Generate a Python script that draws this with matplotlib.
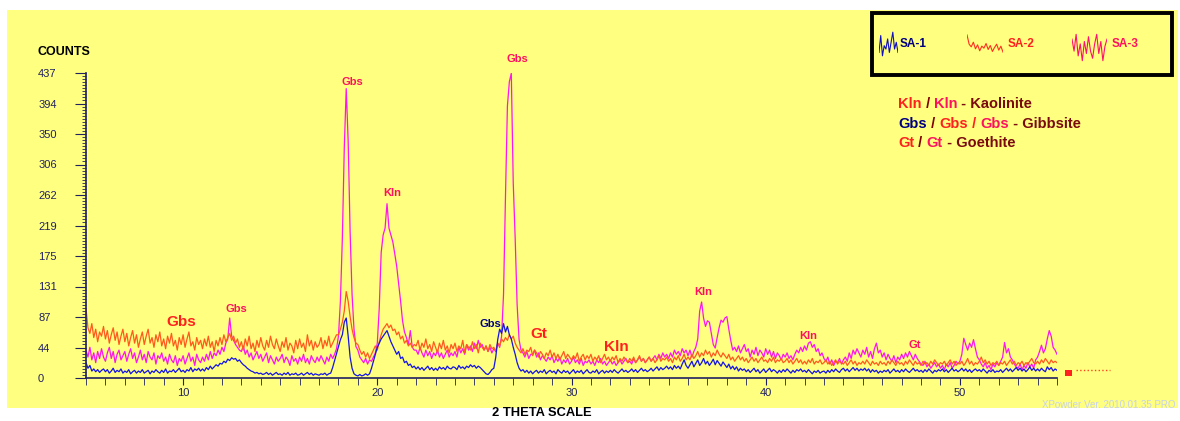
import numpy as np
import matplotlib.pyplot as plt
from matplotlib.patches import Rectangle
from matplotlib.lines import Line2D
from matplotlib.ticker import AutoMinorLocator, MultipleLocator

plt.rcParams['font.family'] = ['Liberation Sans', 'DejaVu Sans']

W, H = 1180, 421

# scan settings (2 theta, degrees)
theta_start = 5.0
theta_step = 0.1
counts_top = 437.4

# counts, one row per degree
sa1 = [
    22, 14, 18, 10, 13, 9, 12, 8, 11, 13,
    9, 12, 7, 10, 14, 8, 11, 9, 13, 7,
    10, 8, 12, 6, 9, 11, 7, 10, 8, 12,
    7, 9, 11, 6, 10, 8, 12, 9, 7, 11,
    8, 13, 7, 10, 9, 12, 8, 11, 14, 9,
    11, 8, 12, 10, 15, 9, 13, 11, 14, 10,
    13, 10, 15, 12, 17, 13, 16, 19, 17, 21,
    20, 24, 22, 27, 25, 29, 27, 28, 24, 26,
    22, 19, 17, 14, 12, 10, 9, 7, 8, 6,
    7, 5, 6, 8, 5, 7, 4, 6, 8, 5,
    6, 4, 7, 5, 8, 4, 6, 5, 7, 4,
    5, 7, 4, 6, 8, 5, 7, 4, 6, 5,
    4, 6, 5, 7, 4, 6, 7, 15, 25, 35,
    45, 55, 62, 80, 86, 60, 30, 14, 6, 4,
    3, 5, 3, 4, 6, 4, 6, 14, 24, 34,
    44, 50, 56, 60, 64, 68, 60, 52, 46, 40,
    34, 38, 28, 30, 22, 24, 18, 20, 15, 17,
    13, 16, 12, 15, 11, 14, 17, 12, 15, 11,
    14, 11, 16, 13, 15, 12, 17, 14, 13, 16,
    15, 12, 18, 14, 16, 13, 17, 15, 19, 16,
    18, 14, 17, 15, 12, 9, 6, 5, 8, 12,
    14, 30, 55, 70, 64, 78, 66, 74, 62, 56,
    44, 34, 22, 14, 10, 12, 8, 11, 7, 10,
    6, 9, 11, 7, 10, 8, 12, 6, 9, 11,
    8, 10, 6, 12, 9, 7, 11, 8, 10, 6,
    9, 12, 7, 10, 8, 11, 6, 9, 12, 8,
    7, 10, 8, 12, 6, 9, 11, 7, 10, 8,
    11, 8, 12, 9, 7, 10, 13, 9, 11, 8,
    10, 13, 9, 12, 8, 11, 14, 10, 12, 9,
    11, 14, 10, 13, 16, 11, 15, 12, 14, 17,
    13, 16, 12, 18, 14, 17, 13, 20, 26, 18,
    14, 19, 24, 16, 21, 26, 18, 22, 28, 20,
    24, 18, 22, 27, 19, 25, 21, 17, 23, 19,
    15, 20, 13, 17, 12, 16, 10, 14, 11, 13,
    9, 12, 8, 11, 14, 9, 12, 7, 10, 13,
    8, 11, 14, 9, 12, 10, 7, 11, 8, 12,
    9, 13, 10, 7, 11, 8, 12, 10, 13, 9,
    11, 8, 12, 9, 6, 10, 8, 11, 7, 9,
    10, 7, 11, 8, 12, 9, 13, 10, 8, 12,
    14, 10, 13, 9, 12, 15, 11, 14, 10, 13,
    11, 14, 10, 13, 8, 12, 9, 11, 7, 10,
    8, 11, 9, 12, 7, 10, 13, 9, 11, 8,
    12, 9, 13, 10, 8, 11, 14, 10, 12, 9,
    11, 8, 12, 9, 13, 10, 7, 11, 9, 12,
    10, 13, 9, 12, 8, 11, 14, 10, 12, 9,
    11, 14, 10, 13, 9, 12, 8, 11, 13, 10,
    12, 9, 13, 10, 7, 11, 9, 12, 8, 10,
    9, 12, 8, 11, 14, 10, 13, 9, 12, 15,
    11, 14, 10, 13, 9, 12, 16, 11, 14, 10,
    13, 10, 14, 11, 9, 16, 12, 15, 10, 13,
    11,
]

sa2 = [
    100, 72, 64, 78, 58, 70, 52, 66, 60, 74,
    56, 68, 50, 62, 72, 54, 66, 48, 60, 70,
    52, 64, 46, 58, 68, 50, 62, 44, 56, 66,
    48, 60, 70, 50, 58, 44, 62, 52, 66, 46,
    56, 42, 60, 50, 64, 46, 54, 40, 58, 48,
    62, 44, 56, 66, 46, 52, 40, 58, 48, 54,
    42, 56, 46, 60, 44, 52, 38, 54, 46, 58,
    48, 62, 52, 58, 64, 54, 60, 50, 56, 44,
    52, 40, 56, 46, 60, 42, 50, 38, 54, 44,
    58, 46, 40, 54, 44, 60, 48, 42, 56, 46,
    38, 52, 44, 58, 40, 50, 46, 36, 54, 42,
    56, 44, 50, 38, 62, 46, 54, 40, 52, 44,
    48, 58, 42, 54, 46, 60, 44, 50, 56, 62,
    62, 70, 80, 96, 124, 110, 88, 70, 58, 50,
    48, 40, 34, 38, 30, 36, 28, 34, 40, 46,
    40, 52, 62, 70, 74, 78, 72, 76, 68, 70,
    62, 66, 56, 60, 50, 54, 46, 50, 44, 48,
    46, 54, 40, 50, 44, 56, 42, 48, 38, 52,
    44, 36, 50, 42, 54, 40, 46, 36, 48, 42,
    50, 38, 46, 42, 54, 36, 48, 44, 40, 52,
    42, 48, 36, 50, 44, 40, 46, 38, 48, 42,
    44, 38, 50, 46, 56, 52, 58, 54, 62, 56,
    60, 50, 44, 40, 36, 42, 34, 40, 38, 44,
    32, 40, 36, 30, 38, 34, 28, 36, 32, 40,
    30, 36, 28, 34, 26, 32, 38, 28, 34, 30,
    26, 32, 28, 36, 24, 30, 34, 26, 32, 28,
    34, 24, 30, 26, 32, 22, 28, 34, 26, 30,
    24, 30, 26, 32, 22, 28, 24, 30, 26, 22,
    28, 24, 30, 22, 26, 32, 24, 28, 22, 26,
    30, 24, 28, 22, 26, 32, 24, 28, 26, 30,
    24, 28, 22, 30, 26, 32, 24, 28, 34, 26,
    30, 26, 34, 28, 32, 38, 30, 36, 32, 40,
    34, 38, 30, 36, 32, 40, 34, 30, 36, 32,
    28, 34, 26, 30, 24, 28, 32, 26, 30, 24,
    28, 22, 26, 30, 24, 28, 22, 26, 30, 24,
    26, 22, 28, 24, 30, 22, 26, 24, 28, 22,
    24, 28, 22, 26, 20, 24, 28, 22, 26, 20,
    24, 20, 26, 22, 28, 20, 24, 22, 26, 20,
    22, 26, 20, 24, 18, 22, 26, 20, 24, 22,
    20, 24, 18, 22, 26, 20, 24, 18, 22, 20,
    24, 20, 26, 22, 18, 24, 20, 22, 18, 24,
    20, 22, 18, 24, 20, 26, 22, 18, 24, 20,
    22, 18, 24, 20, 26, 22, 18, 24, 20, 22,
    18, 24, 20, 22, 18, 24, 20, 26, 22, 18,
    22, 20, 24, 18, 22, 26, 20, 24, 18, 22,
    20, 24, 18, 22, 28, 20, 24, 18, 22, 20,
    24, 30, 22, 26, 20, 24, 18, 22, 20, 24,
    18, 22, 20, 24, 18, 22, 26, 20, 24, 18,
    22, 20, 24, 18, 22, 20, 24, 28, 22, 20,
    24, 20, 26, 22, 28, 24, 20, 26, 22, 24,
    22,
]

sa3 = [
    40, 30, 44, 26, 36, 22, 38, 28, 42, 30,
    24, 36, 44, 28, 38, 22, 34, 40, 26, 32,
    38, 24, 34, 42, 28, 36, 22, 30, 40, 26,
    34, 22, 38, 30, 26, 36, 20, 32, 28, 36,
    24, 30, 20, 34, 26, 22, 32, 18, 28, 24,
    32, 20, 28, 36, 24, 30, 18, 34, 26, 22,
    30, 24, 34, 26, 38, 28, 36, 32, 40, 34,
    44, 38, 50, 56, 86, 60, 54, 48, 44, 40,
    38, 46, 34, 40, 30, 36, 26, 32, 38, 28,
    34, 24, 30, 36, 22, 32, 26, 20, 30, 24,
    28, 34, 22, 30, 26, 18, 32, 24, 28, 20,
    30, 24, 34, 22, 28, 20, 32, 26, 22, 30,
    24, 32, 26, 20, 30, 24, 34, 28, 34, 42,
    60, 110, 200, 330, 415, 340, 210, 120, 70, 45,
    40, 30, 26, 22, 28, 20, 26, 24, 30, 36,
    50, 100, 180, 205, 215, 250, 215, 205, 195, 178,
    160, 135, 110, 82, 66, 58, 48, 68, 44, 40,
    40, 34, 44, 36, 30, 40, 32, 38, 28, 36,
    32, 40, 30, 36, 28, 34, 40, 30, 36, 32,
    38, 30, 44, 36, 42, 34, 48, 40, 46, 38,
    50, 42, 54, 44, 48, 40, 46, 38, 44, 36,
    42, 38, 50, 44, 60, 120, 260, 390, 425, 437,
    280, 200, 105, 55, 40, 36, 30, 38, 28, 34,
    34, 40, 30, 36, 26, 32, 28, 24, 30, 26,
    32, 22, 28, 24, 30, 20, 26, 22, 28, 20,
    24, 30, 22, 26, 20, 28, 18, 24, 22, 26,
    20, 24, 18, 26, 22, 28, 20, 24, 18, 22,
    26, 20, 24, 18, 22, 26, 20, 24, 28, 22,
    24, 20, 28, 22, 26, 30, 24, 28, 22, 26,
    30, 24, 28, 32, 26, 34, 28, 36, 30, 34,
    28, 36, 30, 40, 34, 38, 32, 42, 36, 40,
    32, 40, 30, 38, 44, 56, 96, 109, 86, 74,
    82, 80, 64, 48, 43, 58, 72, 83, 80, 86,
    88, 70, 54, 40, 44, 38, 46, 36, 42, 48,
    38, 42, 30, 40, 34, 44, 32, 40, 36, 30,
    42, 34, 40, 30, 38, 28, 36, 32, 26, 34,
    30, 36, 28, 32, 26, 34, 40, 36, 44, 38,
    46, 40, 50, 52, 44, 48, 38, 42, 32, 36,
    28, 24, 30, 20, 26, 18, 24, 22, 28, 20,
    26, 30, 24, 36, 28, 40, 34, 42, 36, 30,
    40, 34, 44, 30, 38, 28, 42, 50, 36, 40,
    30, 36, 26, 34, 28, 24, 32, 22, 30, 26,
    34, 28, 36, 30, 38, 32, 26, 34, 28, 24,
    20, 18, 24, 16, 20, 14, 18, 22, 16, 20,
    14, 18, 12, 20, 16, 22, 14, 18, 24, 20,
    24, 34, 57, 48, 40, 50, 44, 55, 42, 30,
    26, 20, 16, 22, 14, 18, 12, 20, 16, 22,
    18, 24, 30, 51, 36, 42, 30, 26, 20, 16,
    14, 20, 12, 18, 14, 22, 16, 20, 14, 26,
    30, 38, 47, 36, 42, 56, 68, 60, 44, 40,
    34,
]

series_names = ['SA-1', 'SA-2', 'SA-3']
line_colors = ['#1414E6', '#FF5A1E', '#FF14F0']
name_colors = ['#000080', '#FF2020', '#FF1060']

# phase labels: text, 2theta, counts, colour, size
peak_labels = [
    ('Gbs', 18.7, 425, '#FF1060', 8),
    ('Kln', 20.76, 266, '#FF1060', 8),
    ('Gbs', 27.19, 457, '#FF1060', 8),
    ('Gbs', 12.72, 99, '#FF1060', 8),
    ('Kln', 36.77, 123, '#FF1060', 8),
    ('Kln', 42.18, 60, '#FF1060', 8),
    ('Gt', 47.69, 47, '#FF1060', 8),
    ('Gbs', 25.8, 77, '#000080', 8),
    ('Gbs', 9.9, 80, '#FF2020', 11),
    ('Gt', 28.33, 63, '#FF2020', 11),
    ('Kln', 32.29, 44, '#FF2020', 11),
]

# key lines at the top right
key_lines = [
    [('Kln', '#FF2020'), (' / ', '#800000'), ('Kln', '#FF1060'), (' - Kaolinite', '#7A0A10')],
    [('Gbs', '#000080'), (' / ', '#800000'), ('Gbs', '#FF2020'), (' / ', '#FF2020'),
     ('Gbs', '#FF1060'), (' - Gibbsite', '#7A0A10')],
    [('Gt', '#FF2020'), (' / ', '#800000'), ('Gt', '#FF1060'), (' - Goethite', '#7A0A10')],
]


def fbox(x0, y0, x1, y1):
    # pixel box (top-left origin) -> figure rect
    return [x0 / W, 1 - y1 / H, (x1 - x0) / W, (y1 - y0) / H]


fig = plt.figure(figsize=(W / 100, H / 100), dpi=100)
fig.patch.set_facecolor('white')
fig.patches.append(Rectangle((7 / W, 1 - 408 / H), 1171 / W, 398 / H, transform=fig.transFigure,
                             facecolor='#FFFF80', edgecolor='none', zorder=-10))

ax = fig.add_axes(fbox(86, 73, 1057, 378))
ax.set_facecolor('none')

two_theta = theta_start + theta_step * np.arange(len(sa1))
for counts, col in zip([sa3, sa2, sa1], line_colors[::-1]):
    ax.plot(two_theta, counts, color=col, lw=0.9)

ax.set_xlim(5, 55)
ax.set_ylim(0, counts_top)
for side in ['top', 'right']:
    ax.spines[side].set_visible(False)
axis_col = '#202060'
for side in ['left', 'bottom']:
    ax.spines[side].set_color(axis_col)
    ax.spines[side].set_linewidth(1.2)

yt = np.linspace(0, counts_top, 11)
ax.set_yticks(yt)
ax.set_yticklabels([str(int(v + 0.5)) for v in yt])
ax.yaxis.set_minor_locator(AutoMinorLocator(10))
ax.set_xticks([10, 20, 30, 40, 50])
ax.xaxis.set_minor_locator(MultipleLocator(1))
ax.tick_params(axis='y', which='major', length=8, color=axis_col, labelsize=8,
               labelcolor='#202060', pad=26.5)
for lab in ax.get_yticklabels():
    lab.set_horizontalalignment('left')
ax.tick_params(axis='y', which='minor', length=3, color=axis_col)
ax.tick_params(axis='x', which='both', length=5, color=axis_col, labelsize=8,
               labelcolor='#202060', pad=2)

for txt, tx, ty, col, size in peak_labels:
    ax.text(tx, ty, txt, color=col, fontsize=size, fontweight='bold',
            ha='center', va='center', clip_on=False)

fig.text(38 / W, 1 - 52 / H, 'COUNTS', fontsize=9, fontweight='bold', va='center')
fig.text(542 / W, 1 - 413 / H, '2 THETA SCALE', fontsize=9.3, fontweight='bold',
         ha='center', va='center')

# series key box
fig.patches.append(Rectangle((872 / W, 1 - 75 / H), 300 / W, 62 / H, transform=fig.transFigure,
                             facecolor='none', edgecolor='black', lw=2.8, zorder=5))
icon_boxes = [(879, 31, 898, 57), (967, 34, 1003, 53), (1072, 33, 1107, 62)]
icon_slices = [slice(40, 52), slice(0, 18), slice(0, 18)]
name_x = [900, 1008, 1112]
icon_colors = ['#1010C0', '#FF3020', '#FF1070']
for i, name in enumerate(series_names):
    iax = fig.add_axes(fbox(*icon_boxes[i]))
    seg = [sa1, sa2, sa3][i][icon_slices[i]]
    iax.plot(range(len(seg)), seg, color=icon_colors[i], lw=0.8)
    iax.set_xlim(0, len(seg) - 1)
    iax.axis('off')
    fig.text(name_x[i] / W, 1 - 44 / H, name, color=name_colors[i], fontsize=8.5,
             fontweight='bold', va='center')

key_y = [104, 124, 143]
for parts, py in zip(key_lines, key_y):
    t = fig.text(898 / W, 1 - py / H, parts[0][0], color=parts[0][1], fontsize=10.5,
                 fontweight='bold', va='center')
    for s, c in parts[1:]:
        t = ax.annotate(s, xy=(1, 0), xycoords=t, va='bottom', ha='left', color=c,
                        fontsize=10.5, fontweight='bold', annotation_clip=False)

# small scale marker right of the axis
fig.patches.append(Rectangle((1065 / W, 1 - 376 / H), 7 / W, 6 / H, transform=fig.transFigure,
                             facecolor='#FF2020', edgecolor='none'))
fig.add_artist(Line2D([1076 / W, 1110 / W], [1 - 370 / H, 1 - 370 / H], color='#FF4020',
                      lw=1.0, ls=':'))

fig.text(1176 / W, 1 - 405 / H, 'XPowder Ver. 2010.01.35 PRO', color='#C8D2EA',
         fontsize=7, ha='right', va='center')

fig.savefig('out.png', dpi=100)
